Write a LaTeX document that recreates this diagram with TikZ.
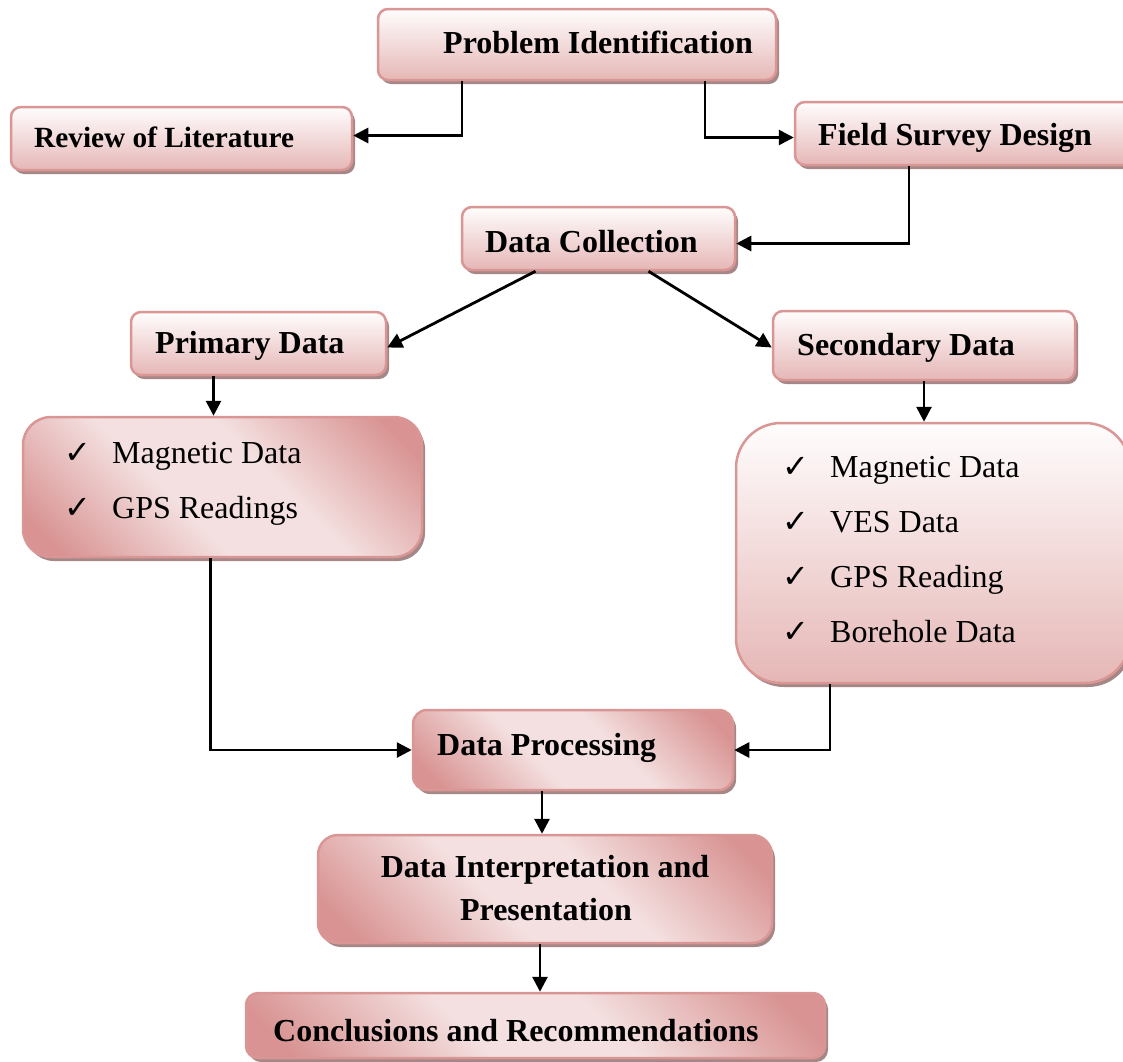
\documentclass[tikz,border=0pt]{standalone}
\usepackage{fontspec}
\setmainfont{Liberation Serif}
\newfontfamily\symfont{DejaVu Sans}
\usetikzlibrary{arrows.meta,shadows}
\definecolor{pkB}{RGB}{217,150,148}
\definecolor{pkD}{RGB}{216,147,146}
\definecolor{pkL}{RGB}{244,224,224}
\definecolor{pkTop}{RGB}{255,253,253}
\definecolor{pkBot}{RGB}{229,183,182}
\definecolor{shd}{RGB}{165,135,135}
\pgfdeclareverticalshading{pkdiag}{100bp}{color(0bp)=(pkD); color(20bp)=(pkD); color(42bp)=(pkL); color(58bp)=(pkL); color(80bp)=(pkD); color(100bp)=(pkD)}
\tikzset{
 base/.style={draw=pkB, line width=2.5pt, rectangle, inner sep=0pt,
   drop shadow={shadow xshift=3pt, shadow yshift=-4pt, fill=shd, opacity=1}},
 vbox/.style={base, top color=pkTop, bottom color=pkBot},
 dbox/.style={base, shading=pkdiag, shading angle=-45},
 ttl/.style={font=\fontsize{32}{38}\selectfont\bfseries, inner sep=0pt, anchor=base west},
 ttlc/.style={font=\fontsize{32}{38}\selectfont\bfseries, inner sep=0pt, anchor=base},
 itm/.style={font=\fontsize{32}{38}\selectfont, inner sep=0pt, anchor=base west},
 chk/.style={font=\symfont\fontsize{32}{36}\selectfont, inner sep=0pt, anchor=base west},
 arr/.style={line width=2.8pt, -{Triangle[length=15pt,width=15pt]}},
}
\begin{document}
\begin{tikzpicture}[x=1pt,y=-1pt]
\useasboundingbox (0,0) rectangle (1123,1061);
\clip (0,0) rectangle (1123,1061);
% boxes
\node[vbox, rounded corners=10pt, minimum width=398pt, minimum height=71pt] (pi) at (577,44.5) {};
\node[vbox, rounded corners=10pt, minimum width=341pt, minimum height=63pt] (rol) at (181.5,138.5) {};
\node[vbox, rounded corners=10pt, minimum width=340pt, minimum height=63pt] (fsd) at (965,133.5) {};
\node[vbox, rounded corners=10pt, minimum width=273pt, minimum height=63pt] (dc) at (598.5,238.5) {};
\node[vbox, rounded corners=10pt, minimum width=255pt, minimum height=63pt] (pd) at (258.5,343.5) {};
\node[vbox, rounded corners=10pt, minimum width=302pt, minimum height=69pt] (sd) at (924,345.5) {};
\node[dbox, rounded corners=28pt, minimum width=399pt, minimum height=140pt] (pl) at (222.5,487) {};
\node[vbox, rounded corners=45pt, minimum width=394pt, minimum height=260pt] (sl) at (933,553) {};
\node[dbox, rounded corners=14pt, minimum width=320pt, minimum height=80pt] (dp) at (573,750) {};
\node[dbox, rounded corners=20pt, minimum width=454pt, minimum height=108pt] (di) at (545,889) {};
\node[dbox, rounded corners=12pt, minimum width=579pt, minimum height=65pt] (cc) at (535.5,1025.5) {};
% texts
\node[ttl] (pi-t) at (443,53) {Problem Identification};
\node[ttl, font=\fontsize{29.3}{35}\selectfont\bfseries] (rol-t) at (34,147) {Review of Literature};
\node[ttl] (fsd-t) at (818,145) {Field Survey Design};
\node[ttl] (dc-t) at (485,252) {Data Collection};
\node[ttl] (pd-t) at (155,353) {Primary Data};
\node[ttl] (sd-t) at (797,355) {Secondary Data};
\node[chk] (pl-c1) at (64,463) {✓};
\node[itm] (pl-t1) at (112,463) {Magnetic Data};
\node[chk] (pl-c2) at (64,518) {✓};
\node[itm] (pl-t2) at (112,518) {GPS Readings};
\node[chk] (sl-c1) at (782,477) {✓};
\node[itm] (sl-t1) at (830,477) {Magnetic Data};
\node[chk] (sl-c2) at (782,532) {✓};
\node[itm] (sl-t2) at (830,532) {VES Data};
\node[chk] (sl-c3) at (782,587) {✓};
\node[itm] (sl-t3) at (830,587) {GPS Reading};
\node[chk] (sl-c4) at (782,642) {✓};
\node[itm] (sl-t4) at (830,642) {Borehole Data};
\node[ttl] (dp-t) at (437,755) {Data Processing};
\node[ttlc] (di-t1) at (545,877) {Data Interpretation and};
\node[ttlc] (di-t2) at (546,920) {Presentation};
\node[ttl] (cc-t) at (273,1041) {Conclusions and Recommendations};
% connectors
\draw[arr] ([xshift=-115pt]pi.south) |- ([yshift=3pt]rol.east);
\draw[arr] ([xshift=128pt]pi.south) |- ([yshift=-4pt]fsd.west);
\draw[arr] ([xshift=-56pt]fsd.south) |- ([yshift=-5pt]dc.east);
\draw[arr] ([xshift=-63pt]dc.south) -- ([yshift=-4pt]pd.east);
\draw[arr] ([xshift=50pt]dc.south) -- ([yshift=-2pt]sd.west);
\draw[arr] ([xshift=-45pt]pd.south) -- ([xshift=-45pt]pd.south |- pl.north);
\draw[arr] (sd.south) -- (sd.south |- sl.north);
\draw[arr] ([xshift=-12pt]pl.south) |- (dp.west);
\draw[arr] ([xshift=-103pt]sl.south) |- (dp.east);
\draw[arr] ([xshift=-31pt]dp.south) -- ([xshift=-31pt]dp.south |- di.north);
\draw[arr] ([xshift=-5pt]di.south) -- ([xshift=-5pt]di.south |- cc.north);
\end{tikzpicture}
\end{document}
